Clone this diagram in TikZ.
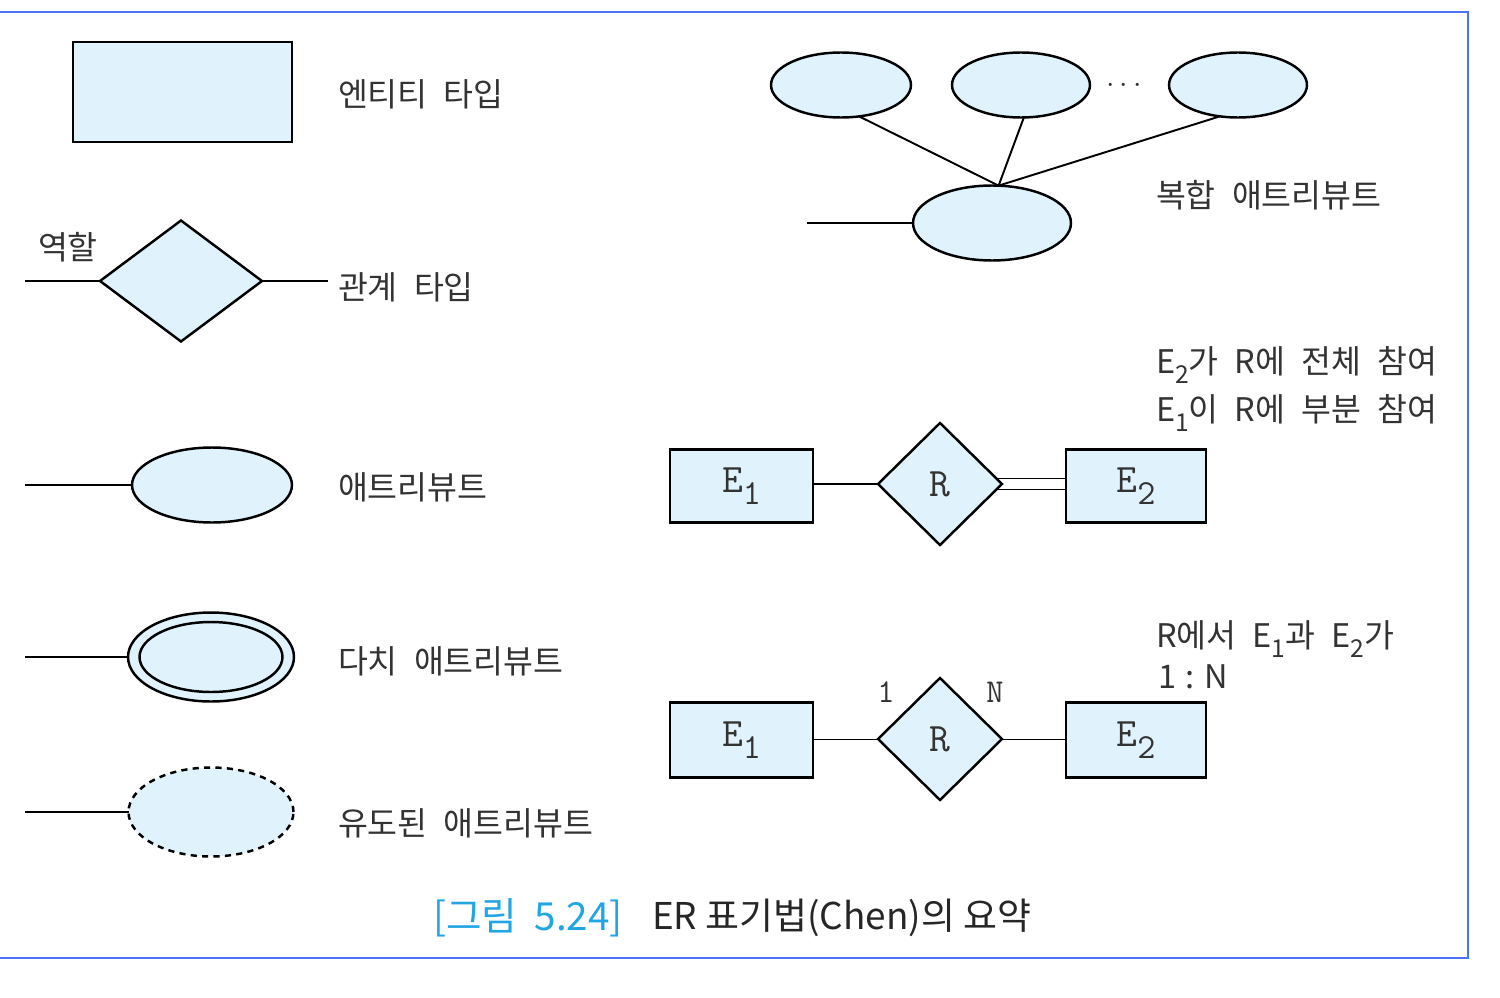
\documentclass[tikz,border=0pt]{standalone}
\usepackage{fontspec}
\newfontfamily\kr{Noto Sans CJK KR}
\usepackage{xcolor}
\usepackage{tikz}
\usetikzlibrary{shapes.geometric,backgrounds}
\definecolor{erfill}{HTML}{E0F2FC}
\definecolor{frameblue}{HTML}{4A74F5}
\definecolor{capcyan}{HTML}{22A5E3}
\definecolor{lbltext}{HTML}{333333}
\newcommand{\idx}[1]{\raisebox{-0.3em}{\fontsize{14}{14}\selectfont #1}}
\newcommand{\ename}[2]{#1\raisebox{-0.3em}{\fontsize{20}{20}\selectfont #2}}
\newcommand{\widesp}[1]{\spaceskip=#1\relax}

\begin{document}
\begin{tikzpicture}[x=0.02cm, y=-0.02cm, line width=1.1pt,
    every node/.style={inner sep=0pt, outer sep=0pt},
    entbox/.style={draw, fill=erfill, rectangle, line width=1.4pt},
    relbox/.style={draw, fill=erfill, diamond, line width=1.4pt},
    attbox/.style={draw, fill=erfill, ellipse, line width=1.4pt},
    lbl/.style={anchor=west, text=lbltext, font=\kr\fontsize{18.5}{21}\selectfont\widesp{0.5em}},
    shapetxt/.style={text=lbltext, font=\ttfamily\fontsize{23}{25}\selectfont}]
    \useasboundingbox (0,0) rectangle (1500,997);
    \draw[frameblue, line width=1.6pt] (0,12) -- (1468,12) -- (1468,958) -- (0,958);

    \node[entbox, minimum width=4.38cm, minimum height=2cm] (ent) at (182.5,92) {};
    \node[lbl] (entlbl) at (338,94) {엔티티 타입};

    \node[relbox, minimum width=3.24cm, minimum height=2.42cm] (rel) at (181,281) {};
    \coordinate (relin) at (25,281);
    \coordinate (relout) at (328,281);
    \draw (relin) -- (rel);
    \draw (rel) -- (relout);
    \node[lbl] (rolelbl) at (38,247) {역할};
    \node[lbl] (rellbl) at (338,287) {관계 타입};

    \node[attbox, minimum width=3.2cm, minimum height=1.5cm] (att) at (212,485) {};
    \coordinate (attin) at (25,485);
    \draw (attin) -- (att);
    \node[lbl] (attlbl) at (338,487) {애트리뷰트};

    \node[attbox, minimum width=3.32cm, minimum height=1.78cm] (mvout) at (211,657) {};
    \node[draw, ellipse, line width=1.4pt, minimum width=2.86cm, minimum height=1.4cm] (mvin) at (211,657) {};
    \coordinate (mvattin) at (25,657);
    \draw (mvattin) -- (mvout);
    \node[lbl] (mvlbl) at (338,661) {다치 애트리뷰트};

    \node[attbox, dash pattern=on 3.5pt off 3pt, minimum width=3.3cm, minimum height=1.78cm] (der) at (211,812) {};
    \coordinate (derin) at (25,812);
    \draw (derin) -- (der);
    \node[lbl] (derlbl) at (338,823) {유도된 애트리뷰트};

    \node[attbox, minimum width=2.8cm, minimum height=1.3cm] (part1) at (841,85) {};
    \node[attbox, minimum width=2.76cm, minimum height=1.3cm] (part2) at (1021,85) {};
    \node[attbox, minimum width=2.76cm, minimum height=1.3cm] (part3) at (1238,85) {};
    \node[text=lbltext, font=\fontsize{16}{16}\selectfont] (dots) at (1124,86) {$\cdots$};
    \node[attbox, minimum width=3.16cm, minimum height=1.5cm] (comp) at (992,223) {};
    \coordinate (compin) at (807,223);
    \draw (compin) -- (comp);
    \draw (part1.-60) -- (comp.80);
    \draw (part2.-85) -- (comp.80);
    \draw (part3.-120) -- (comp.80);
    \node[lbl] (complbl) at (1156,195) {복합 애트리뷰트};

    \node[entbox, shapetxt, minimum width=2.86cm, minimum height=1.46cm] (ea) at (741.5,486) {\ename{E}{1}};
    \node[relbox, shapetxt, minimum width=2.48cm, minimum height=2.44cm] (ra) at (940,484) {R};
    \node[entbox, shapetxt, minimum width=2.8cm, minimum height=1.46cm] (eb) at (1136,486) {\ename{E}{2}};
    \draw (ea.east |- ra) -- (ra);
    \begin{pgfonlayer}{background}
        \draw[double, double distance=5.8pt] (ra.center) -- (eb.west |- ra);
    \end{pgfonlayer}
    \node[lbl] (totlbl) at (1156,365) {E\idx{2}가 R에 전체 참여};
    \node[lbl] (parlbl) at (1156,413) {E\idx{1}이 R에 부분 참여};

    \node[entbox, shapetxt, minimum width=2.86cm, minimum height=1.5cm] (ec) at (741.5,740) {\ename{E}{1}};
    \node[relbox, shapetxt, minimum width=2.48cm, minimum height=2.44cm] (rc) at (940,739) {R};
    \node[entbox, shapetxt, minimum width=2.8cm, minimum height=1.5cm] (ed) at (1136,740) {\ename{E}{2}};
    \draw (ec.east |- rc) -- (rc);
    \draw (rc) -- (ed.west |- rc);
    \node[text=lbltext, font=\ttfamily\fontsize{19}{21}\selectfont] (one) at (886,692) {1};
    \node[text=lbltext, font=\ttfamily\fontsize{19}{21}\selectfont] (many) at (995,692) {N};
    \node[lbl] (cardlbl) at (1156,639) {R에서 E\idx{1}과 E\idx{2}가};
    \node[lbl] (ratiolbl) at (1158,677) {1\hspace{0.3em}:\hspace{0.3em}N};

    \node[anchor=west, text=capcyan, font=\kr\fontsize{22}{24}\selectfont\widesp{0.45em}] (capnum) at (433,918) {[그림 5.24]};
    \node[anchor=west, text=black!85, font=\kr\fontsize{21}{24}\selectfont] (captxt) at (652,918) {ER 표기법(Chen)의 요약};
\end{tikzpicture}
\end{document}
